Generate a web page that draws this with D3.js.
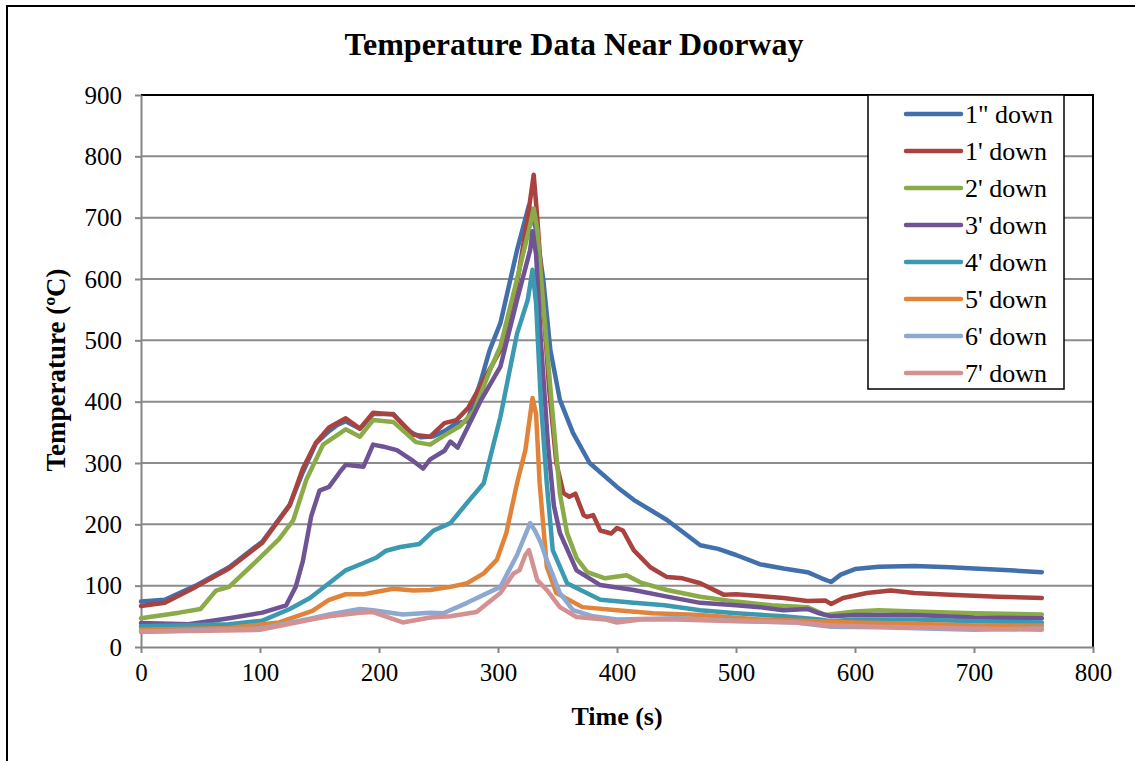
<!DOCTYPE html>
<html>
<head>
<meta charset="utf-8">
<script src="https://cdn.jsdelivr.net/npm/d3@7"></script>
<style>
  body { margin: 0; background: #fff; }
  svg { display: block; font-family: "Liberation Serif", "Times New Roman", serif; }
</style>
</head>
<body>
<div id="chart"></div>
<script>
// series: [time (s), temperature (ºC)]
const down1in = [[0,74],[20,77],[46,100],[74,130],[102,172],[125,232],[136,285],[147,332],[158,352],[165,362],[172,368],[184,356],[195,380],[212,380],[225,352],[235,342],[245,343],[255,352],[265,365],[274,368],[285,430],[293,484],[302,528],[316,647],[326,720],[332,680],[338,600],[344,484],[352,403],[363,349],[377,300],[400,261],[414,240],[442,207],[470,166],[485,160],[500,150],[520,135],[540,128],[560,122],[572,112],[580,106],[588,118],[600,127],[620,131],[650,132],[680,130],[700,128],[730,125],[757,122]];
const down1ft = [[0,67],[20,72],[46,98],[74,128],[102,170],[125,231],[136,291],[147,333],[158,358],[172,373],[184,356],[195,382],[212,379],[229,346],[243,343],[255,365],[265,370],[275,390],[285,425],[302,484],[316,593],[325,701],[330,770],[333,700],[338,560],[343,420],[349,300],[355,251],[360,245],[365,250],[372,215],[375,212],[380,215],[386,190],[395,185],[400,194],[405,190],[414,158],[428,130],[442,114],[455,112],[470,104],[490,85],[500,86],[520,83],[540,80],[560,75],[575,76],[580,70],[590,80],[610,88],[630,92],[650,88],[680,85],[720,82],[757,80]];
const down2ft = [[0,47],[32,56],[50,62],[63,92],[74,98],[97,140],[116,176],[128,207],[139,273],[153,330],[172,355],[184,343],[195,370],[212,367],[231,334],[243,330],[255,345],[268,360],[280,385],[293,450],[302,490],[316,600],[326,680],[330,715],[333,680],[338,560],[345,400],[352,250],[358,186],[366,145],[375,122],[390,112],[408,117],[420,105],[442,93],[470,82],[500,74],[530,68],[560,65],[575,52],[600,58],[620,60],[650,58],[700,55],[757,53]];
const down3ft = [[0,39],[40,37],[74,47],[102,56],[122,68],[130,98],[136,140],[143,213],[150,255],[158,261],[167,285],[172,297],[187,294],[195,330],[203,327],[215,321],[229,303],[237,291],[243,306],[255,320],[260,335],[266,325],[275,360],[285,400],[302,457],[316,566],[327,647],[329,678],[332,640],[336,500],[342,330],[347,230],[352,186],[366,125],[386,101],[414,93],[440,83],[470,72],[500,68],[520,65],[540,60],[560,62],[570,55],[580,50],[600,52],[650,52],[700,48],[757,47]];
const down4ft = [[0,34],[74,37],[102,43],[125,62],[142,80],[158,104],[172,125],[187,137],[198,146],[206,157],[218,163],[234,168],[246,190],[260,202],[274,235],[288,267],[302,375],[316,511],[325,566],[329,615],[332,560],[336,400],[341,267],[346,158],[358,104],[386,77],[414,72],[440,68],[470,60],[500,55],[540,50],[570,45],[580,42],[600,45],[650,45],[700,42],[757,40]];
const down5ft = [[0,28],[74,31],[116,40],[144,59],[158,77],[172,86],[187,86],[212,95],[229,92],[243,93],[260,98],[274,104],[288,120],[299,142],[307,186],[316,267],[323,321],[329,406],[332,380],[335,267],[341,131],[349,88],[371,65],[400,60],[430,55],[470,52],[520,45],[570,42],[600,40],[650,38],[700,35],[757,35]];
const down6ft = [[0,25],[100,30],[144,47],[158,53],[184,62],[195,60],[220,53],[243,56],[254,55],[274,72],[302,98],[316,150],[327,202],[331,190],[336,170],[341,142],[352,88],[363,60],[380,50],[400,45],[450,47],[500,43],[550,40],[580,33],[620,32],[700,28],[757,30]];
const down7ft = [[0,25],[100,28],[144,45],[158,50],[184,56],[195,57],[220,40],[243,48],[260,50],[282,57],[293,74],[302,88],[313,120],[318,125],[323,150],[326,158],[333,109],[341,93],[352,65],[366,49],[390,45],[400,40],[420,45],[450,45],[500,42],[550,40],[580,35],[620,33],[700,30],[757,28]];

const seriesNames = ['1" down', "1' down", "2' down", "3' down", "4' down", "5' down", "6' down", "7' down"];
const seriesValues = [down1in, down1ft, down2ft, down3ft, down4ft, down5ft, down6ft, down7ft];
const colors = ['#4170AC', '#AA4340', '#8BAB49', '#6E5495', '#3C99B2', '#E1843A', '#8DA8D2', '#D49191'];
const xTicks = [0, 100, 200, 300, 400, 500, 600, 700, 800];
const yTicks = [0, 100, 200, 300, 400, 500, 600, 700, 800, 900];

const width = 1135, height = 761;
const margin = { top: 95, right: 42, bottom: 114, left: 141 };

const svg = d3.select('#chart').append('svg')
  .attr('width', width)
  .attr('height', height);

// outer frame (cut off on the right and bottom)
svg.append('path')
  .attr('d', `M7,${height + 5} V6 H${width + 5}`)
  .attr('fill', 'none')
  .attr('stroke', '#000')
  .attr('stroke-width', 2);

const x = d3.scaleLinear().domain([0, 800]).range([margin.left, width - margin.right]);
const y = d3.scaleLinear().domain([0, 900]).range([height - margin.bottom, margin.top]);

// gridlines
svg.append('g')
  .selectAll('line')
  .data(yTicks.filter(d => d > 0 && d < 900))
  .enter().append('line')
  .attr('x1', x(0)).attr('x2', x(800))
  .attr('y1', d => y(d)).attr('y2', d => y(d))
  .attr('stroke', '#8c8c8c')
  .attr('stroke-width', 2);

// plot border top / right
svg.append('path')
  .attr('d', `M${x(0)},${y(900)} H${x(800)} V${y(0)}`)
  .attr('fill', 'none')
  .attr('stroke', '#000')
  .attr('stroke-width', 2);

const xAxis = svg.append('g')
  .attr('transform', `translate(0,${y(0)})`)
  .call(d3.axisBottom(x).tickValues(xTicks).tickSize(6).tickSizeOuter(0));

const yAxis = svg.append('g')
  .attr('transform', `translate(${x(0)},0)`)
  .call(d3.axisLeft(y).tickValues(yTicks).tickSize(6).tickSizeOuter(0));

[xAxis, yAxis].forEach(g => {
  g.select('.domain').attr('stroke', '#868686').attr('stroke-width', 2);
  g.selectAll('.tick line').attr('stroke', '#868686').attr('stroke-width', 2);
  g.selectAll('.tick text')
    .attr('fill', '#000')
    .style('font-family', '"Liberation Serif", "Times New Roman", serif')
    .style('font-size', '25px');
});
xAxis.selectAll('.tick text').attr('dy', '0.95em').attr('y', 10);
yAxis.selectAll('.tick text').attr('x', -19);

// lines
const line = d3.line()
  .x(d => x(d[0]))
  .y(d => y(d[1]))
  .curve(d3.curveLinear);

svg.append('g')
  .selectAll('path')
  .data(seriesValues)
  .enter().append('path')
  .attr('d', line)
  .attr('fill', 'none')
  .attr('stroke', (d, i) => colors[i])
  .attr('stroke-width', 4.5)
  .attr('stroke-linejoin', 'round')
  .attr('stroke-linecap', 'round');

// title + axis titles
svg.append('text')
  .attr('x', 574).attr('y', 55)
  .attr('text-anchor', 'middle')
  .style('font-weight', 'bold')
  .style('font-size', '32px')
  .text('Temperature Data Near Doorway');

svg.append('text')
  .attr('x', 617).attr('y', 725)
  .attr('text-anchor', 'middle')
  .style('font-weight', 'bold')
  .style('font-size', '26px')
  .text('Time (s)');

svg.append('text')
  .attr('transform', `translate(65,370) rotate(-90)`)
  .attr('text-anchor', 'middle')
  .style('font-weight', 'bold')
  .style('font-size', '27px')
  .text('Temperature (ºC)');

// legend
const legend = svg.append('g').attr('transform', 'translate(868,95)');
legend.append('rect')
  .attr('width', 196).attr('height', 294)
  .attr('fill', '#fff')
  .attr('stroke', '#000')
  .attr('stroke-width', 1.5);

const item = legend.selectAll('g.item')
  .data(seriesNames)
  .enter().append('g')
  .attr('class', 'item')
  .attr('transform', (d, i) => `translate(0,${19 + i * 37})`);

item.append('line')
  .attr('x1', 38).attr('x2', 93)
  .attr('stroke', (d, i) => colors[i])
  .attr('stroke-width', 4.5)
  .attr('stroke-linecap', 'round');

item.append('text')
  .attr('x', 97).attr('dy', '0.35em')
  .style('font-size', '26px')
  .text(d => d);
</script>
</body>
</html>
